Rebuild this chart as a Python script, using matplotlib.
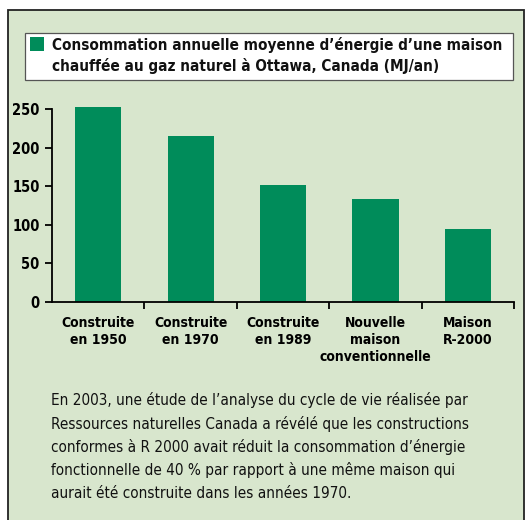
import matplotlib
matplotlib.use("Agg")
import matplotlib.pyplot as plt
from matplotlib.patches import Rectangle

plt.rcParams['font.family'] = ['DejaVu Sans']
plt.rcParams['font.stretch'] = 'condensed'

categories = ["Construite\nen 1950", "Construite\nen 1970", "Construite\nen 1989",
              "Nouvelle\nmaison\nconventionnelle", "Maison\nR-2000"]
values = [252, 215, 151, 133, 94]
yticks = [0, 50, 100, 150, 200, 250]
title_lines = ["Consommation annuelle moyenne d\u2019\u00e9nergie d\u2019une maison",
               "chauff\u00e9e au gaz naturel \u00e0 Ottawa, Canada (MJ/an)"]
note_lines = ["En 2003, une \u00e9tude de l\u2019analyse du cycle de vie r\u00e9alis\u00e9e par",
              "Ressources naturelles Canada a r\u00e9v\u00e9l\u00e9 que les constructions",
              "conformes \u00e0 R 2000 avait r\u00e9duit la consommation d\u2019\u00e9nergie",
              "fonctionnelle de 40 % par rapport \u00e0 une m\u00eame maison qui",
              "aurait \u00e9t\u00e9 construite dans les ann\u00e9es 1970."]

W, H = 529, 520
bg = "#d8e6cd"
green = "#008c5a"

fig = plt.figure(figsize=(W / 100, H / 100), dpi=100)
fig.patch.set_facecolor("white")

def px(x, y):
    # pixel coords (top-left origin) -> figure fraction
    return x / W, 1 - y / H

# outer panel
x0, y0 = px(8, 10)
fig.patches.append(Rectangle((x0, -0.05), (524 - 8) / W, y0 + 0.05, transform=fig.transFigure,
                             facecolor=bg, edgecolor="#222222", linewidth=1.3, zorder=-10))
# legend / title box
bx, by = px(25, 80)
fig.patches.append(Rectangle((bx, by), (513 - 25) / W, (80 - 33) / H, transform=fig.transFigure,
                             facecolor="white", edgecolor="#555555", linewidth=0.9, zorder=-5))
sx, sy = px(30, 51)
fig.patches.append(Rectangle((sx, sy), 14 / W, 14 / H, transform=fig.transFigure,
                             facecolor=green, edgecolor="none", zorder=-4))
for i, line in enumerate(title_lines):
    tx, ty = px(52, 45 + i * 21)
    fig.text(tx, ty, line, fontsize=11, fontweight="bold", va="center", ha="left", color="#111111")

# bars
ax_l, ax_b = px(52, 302)
top = 302 - 253 * (302 - 109) / 250
ax = fig.add_axes([ax_l, ax_b, (514 - 52) / W, (302 - top) / H])
ax.set_facecolor("none")
pos = [i + 0.5 for i in range(len(values))]
ax.bar(pos, values, width=0.5, color=green, zorder=2)
ax.set_xlim(0, 5)
ax.set_ylim(0, 253)
ax.set_yticks(yticks)
ax.set_yticklabels([str(v) for v in yticks], fontsize=10.5, fontweight="bold")
ax.set_xticks(pos)
ax.set_xticklabels(categories, fontsize=10, fontweight="bold", linespacing=1.3)
ax.tick_params(axis="x", length=0, pad=10)
ax.set_xticks([1, 2, 3, 4, 5], minor=True)
ax.tick_params(axis="x", which="minor", length=5, width=1.3, direction="out")
ax.tick_params(axis="y", length=5, width=1.3, pad=4)
for s in ["top", "right"]:
    ax.spines[s].set_visible(False)
ax.spines["left"].set_bounds(0, 250)
ax.spines["left"].set_linewidth(1.3)
ax.spines["bottom"].set_linewidth(1.3)

for i, line in enumerate(note_lines):
    tx, ty = px(51, 400 + i * 23.5)
    fig.text(tx, ty, line, fontsize=11, va="center", ha="left", color="#111111")

fig.savefig("out.png", dpi=100)
